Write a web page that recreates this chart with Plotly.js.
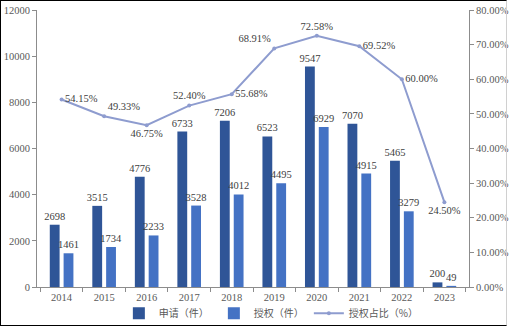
<!DOCTYPE html>
<html><head><meta charset="utf-8">
<script src="https://cdn.plot.ly/plotly-3.0.1.min.js"></script>
<style>
html,body{margin:0;padding:0;background:#fff;}
#wrap{position:relative;width:512px;height:328px;}
#chart{position:absolute;left:0;top:0;width:512px;height:328px;}
#frame{position:absolute;left:0;top:0;width:505px;height:324px;border-left:1.5px solid #000;border-top:1.5px solid #000;border-bottom:1.5px solid #000;border-right:1px solid #d0d0d0;pointer-events:none;}
</style></head>
<body>
<div id="wrap"><div id="chart"></div><div id="frame"></div></div>
<script>
const years = ['2014','2015','2016','2017','2018','2019','2020','2021','2022','2023'];
const applications = [2698, 3515, 4776, 6733, 7206, 6523, 9547, 7070, 5465, 200];
const grants = [1461, 1734, 2233, 3528, 4012, 4495, 6929, 4915, 3279, 49];
const grantRatio = [54.15, 49.33, 46.75, 52.40, 55.68, 68.91, 72.58, 69.52, 60.00, 24.50];
const seriesNames = ['申请（件）', '授权（件）', '授权占比（%）'];
const rightTickVals = [0, 10, 20, 30, 40, 50, 60, 70, 80];

const serif = '"Liberation Serif", "Times New Roman", serif';
const labelFont = {family: serif, size: 10.5, color: '#404040'};
const ratioPos = ['middle right','top right','bottom center','top center','middle right','top left','top center','middle right','middle right','bottom center'];

const data = [
  {type:'bar', name: seriesNames[0], x: years, y: applications, marker:{color:'#2F5597'},
   text: applications.map(String), textposition:'outside', constraintext:'none', textfont: labelFont, cliponaxis:false},
  {type:'bar', name: seriesNames[1], x: years, y: grants, marker:{color:'#4472C4'},
   text: grants.map(String), textposition:'outside', constraintext:'none', textfont: labelFont, cliponaxis:false},
  {type:'scatter', mode:'lines+markers+text', name: seriesNames[2], x: years, y: grantRatio, yaxis:'y2',
   line:{color:'#8E9CCF', width:2}, marker:{color:'#8E9CCF', size:4},
   text: grantRatio.map(v => v.toFixed(2) + '%'), textposition: ratioPos, textfont: labelFont, cliponaxis:false}
];

const tickFont = {family: serif, size: 10.5, color: '#595959'};
const layout = {
  width: 512, height: 328,
  margin: {l: 37, r: 43, t: 10, b: 41, autoexpand:false},
  paper_bgcolor:'#fff', plot_bgcolor:'#fff',
  barmode:'group', bargap:0.35, bargroupgap:0.29,
  showlegend:true,
  legend:{orientation:'h', xref:'container', yref:'container', x:0.53, xanchor:'center', y:0.045, yanchor:'middle',
    bgcolor:'rgba(0,0,0,0)', font:{family:'"Noto Sans CJK SC", sans-serif', size:10, color:'#595959'}, itemwidth:20, tracegroupgap:0},
  xaxis:{type:'category', tickfont:tickFont, showline:true, linecolor:'#8c8c8c', linewidth:1, ticks:'outside', tickson:'boundaries',
    ticklen:4, tickcolor:'#8c8c8c', showgrid:false, zeroline:false, automargin:false},
  yaxis:{range:[0,12000], dtick:2000, tickformat:'d', tickfont:tickFont, showline:true, linecolor:'#8c8c8c', linewidth:1,
    ticks:'outside', ticklen:4, tickcolor:'#8c8c8c', showgrid:false, zeroline:false, automargin:false},
  yaxis2:{range:[0,80], overlaying:'y', side:'right', tickfont:tickFont, automargin:false,
    tickmode:'array', tickvals: rightTickVals, ticktext: rightTickVals.map(v => v.toFixed(2) + '%'),
    showline:true, linecolor:'#8c8c8c', linewidth:1, ticks:'outside', ticklen:4, tickcolor:'#8c8c8c', showgrid:false, zeroline:false}
};
Plotly.newPlot('chart', data, layout, {displayModeBar:false, staticPlot:true});
</script>
</body></html>
